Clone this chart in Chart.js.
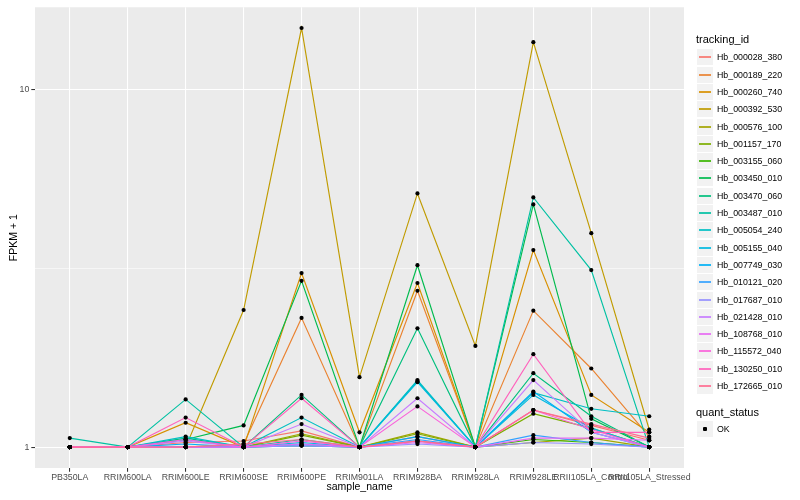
<!DOCTYPE html>
<html><head><meta charset="utf-8">
<script src="https://cdn.jsdelivr.net/npm/chart.js@4.4.1/dist/chart.umd.min.js"></script>
<style>
html,body{margin:0;padding:0;background:#fff;}
#wrap{position:relative;width:800px;height:500px;font-family:"Liberation Sans",Arial,sans-serif;}
canvas{position:absolute;left:0;top:0;}
.lg{position:absolute;white-space:nowrap;}
</style></head><body>
<div id="wrap"><canvas id="c" width="800" height="500"></canvas><div id="legend"></div></div>
<script>
// ---- data ----
const sampleNames = ["PB350LA","RRIM600LA","RRIM600LE","RRIM600SE","RRIM600PE","RRIM901LA","RRIM928BA","RRIM928LA","RRIM928LE","RRII105LA_Control","RRII105LA_Stressed"];
const trackingIds = ["Hb_000028_380","Hb_000189_220","Hb_000260_740","Hb_000392_530","Hb_000576_100","Hb_001157_170","Hb_003155_060","Hb_003450_010","Hb_003470_060","Hb_003487_010","Hb_005054_240","Hb_005155_040","Hb_007749_030","Hb_010121_020","Hb_017687_010","Hb_021428_010","Hb_108768_010","Hb_115572_040","Hb_130250_010","Hb_172665_010"];
const Hb_000028_380 = [1,1,1.03,1.04,1.11,1.0,1.07,1.0,1.27,1.15,1.045];
const Hb_000189_220 = [1,1,1.0,1.02,2.30,1.0,2.74,1.0,2.41,1.66,1.07];
const Hb_000260_740 = [1,1,1.17,1.0,3.07,1.10,2.88,1.0,3.56,1.40,1.10];
const Hb_000392_530 = [1,1,1.0,2.42,14.9,1.57,5.13,1.92,13.6,3.97,1.12];
const Hb_000576_100 = [1,1,1.0,1.0,1.09,1.0,1.10,1.0,1.03,1.06,1.0];
const Hb_001157_170 = [1,1,1.0,1.0,1.08,1.0,1.09,1.0,1.24,1.13,1.0];
const Hb_003155_060 = [1,1,1.0,1.0,1.01,1.0,1.04,1.0,1.05,1.03,1.0];
const Hb_003450_010 = [1,1,1.05,1.15,2.92,1.0,3.23,1.0,4.78,1.20,1.0];
const Hb_003470_060 = [1,1,1.06,1.0,1.40,1.0,2.15,1.0,1.61,1.22,1.0];
const Hb_003487_010 = [1.06,1,1.36,1.0,1.05,1.0,1.53,1.0,5.0,3.13,1.0];
const Hb_005054_240 = [1,1,1.07,1.0,1.21,1.0,1.54,1.0,1.42,1.28,1.22];
const Hb_005155_040 = [1,1,1.05,1.0,1.03,1.0,1.52,1.0,1.40,1.13,1.0];
const Hb_007749_030 = [1,1,1.02,1.0,1.02,1.0,1.07,1.0,1.43,1.10,1.0];
const Hb_010121_020 = [1,1,1.0,1.0,1.01,1.0,1.05,1.0,1.08,1.03,1.0];
const Hb_017687_010 = [1,1,1.0,1.0,1.01,1.0,1.02,1.0,1.03,1.02,1.0];
const Hb_021428_010 = [1,1,1.04,1.0,1.16,1.0,1.37,1.0,1.54,1.10,1.0];
const Hb_108768_010 = [1,1,1.0,1.0,1.02,1.0,1.03,1.0,1.06,1.06,1.045];
const Hb_115572_040 = [1,1,1.05,1.0,1.04,1.0,1.30,1.0,1.27,1.12,1.0];
const Hb_130250_010 = [1,1,1.21,1.0,1.37,1.0,1.04,1.0,1.82,1.10,1.10];
const Hb_172665_010 = [1,1,1.0,1.02,1.05,1.0,1.04,1.0,1.27,1.16,1.06];
const seriesValues = [Hb_000028_380,Hb_000189_220,Hb_000260_740,Hb_000392_530,Hb_000576_100,Hb_001157_170,Hb_003155_060,Hb_003450_010,Hb_003470_060,Hb_003487_010,Hb_005054_240,Hb_005155_040,Hb_007749_030,Hb_010121_020,Hb_017687_010,Hb_021428_010,Hb_108768_010,Hb_115572_040,Hb_130250_010,Hb_172665_010];
const seriesColors = ["#F8766D","#EA8331","#D89000","#C09B00","#A3A500","#7CAE00","#39B600","#00BB4E","#00BF7D","#00C1A3","#00BFC4","#00BAE0","#00B0F6","#35A2FF","#9590FF","#C77CFF","#E76BF3","#FA62DB","#FF62BC","#FF6C91"];
const quantStatus = ["OK"];
const yTickValues = [1, 10];
const yTickLabels = ["1", "10"];
const yMinorBreaks = [Math.sqrt(10)];

// ---- chart ----
const F = '"Liberation Sans", Arial, sans-serif';
const N = seriesValues.length;
const datasets = seriesValues.map((vals, i) => ({
  label: trackingIds[i],
  data: vals.map((v, j) => ({x: j, y: v})),
  borderColor: seriesColors[i],
  backgroundColor: seriesColors[i],
  borderWidth: 1.15,
  pointRadius: 0,
  tension: 0,
  fill: false,
  order: N - i
}));
const allPoints = [];
seriesValues.forEach(vals => vals.forEach((v, j) => allPoints.push({x: j, y: v})));
datasets.push({
  label: quantStatus[0],
  data: allPoints,
  showLine: false,
  pointRadius: 2.1,
  pointStyle: 'circle',
  pointBackgroundColor: '#000',
  pointBorderWidth: 0,
  borderColor: '#000',
  order: -1
});

const bgPlugin = {
  id: 'bg',
  beforeDraw(chart) {
    const {ctx, chartArea: a} = chart;
    ctx.save();
    ctx.fillStyle = '#FFFFFF';
    ctx.fillRect(0, 0, chart.width, chart.height);
    ctx.fillStyle = '#EBEBEB';
    ctx.fillRect(a.left, a.top, a.right - a.left, a.bottom - a.top);
    ctx.restore();
  }
};

const yTicksAll = yTickValues.concat(yMinorBreaks).sort((a, b) => a - b);
const isMinor = v => yMinorBreaks.some(m => Math.abs(m - v) < 1e-6);

new Chart(document.getElementById('c'), {
  type: 'line',
  data: {datasets},
  options: {
    responsive: false,
    animation: false,
    events: [],
    layout: {padding: {left: 0, right: 116, top: 5, bottom: 0}},
    plugins: {legend: {display: false}, tooltip: {enabled: false}},
    scales: {
      x: {
        type: 'linear', min: -0.6, max: 10.6,
        afterBuildTicks: s => { s.ticks = sampleNames.map((_, i) => ({value: i})); },
        afterFit: s => { s.height = 32; },
        ticks: {autoSkip: false, maxRotation: 0, minRotation: 0, callback: v => sampleNames[v],
                font: {size: 8.8, family: F}, color: '#4D4D4D', padding: 1},
        grid: {color: '#FFFFFF', lineWidth: 1.07, tickColor: '#333333', tickLength: 3.7, drawTicks: true},
        border: {display: false},
        title: {display: true, text: 'sample_name', font: {size: 10.5, family: F}, color: '#000000', padding: {top: 0, bottom: 6.5}}
      },
      y: {
        type: 'logarithmic', min: 0.874, max: 17.03,
        afterBuildTicks: s => { s.ticks = yTicksAll.map(v => ({value: v})); },
        afterFit: s => { s.width = 35; },
        ticks: {autoSkip: false, callback: v => { const k = yTickValues.findIndex(t => Math.abs(t - v) < 1e-6); return k >= 0 ? yTickLabels[k] : ''; },
                font: {size: 8.8, family: F}, color: '#4D4D4D', padding: 2},
        grid: {
          color: '#FFFFFF',
          lineWidth: c => (c.tick && isMinor(c.tick.value)) ? 0.55 : 1.07,
          tickColor: c => (c.tick && isMinor(c.tick.value)) ? 'rgba(0,0,0,0)' : '#333333',
          tickLength: 3.7, drawTicks: true
        },
        border: {display: false},
        title: {display: true, text: 'FPKM + 1', font: {size: 10.5, family: F}, color: '#000000', padding: {top: 7.5, bottom: 0}}
      }
    }
  },
  plugins: [bgPlugin]
});

// ---- legend (HTML) ----
const lg = document.getElementById('legend');
function add(html, style) { const d = document.createElement('div'); d.className = 'lg'; d.style.cssText = style; d.innerHTML = html; lg.appendChild(d); return d; }
add('tracking_id', 'left:696px;top:33px;font-size:11px;line-height:13px;color:#000;');
trackingIds.forEach((id, i) => {
  const cy = Math.round(57.3 + i * 17.3);
  add('', `left:697px;top:${cy - 8}px;width:16px;height:16px;background:#F2F2F2;`);
  add('', `left:699px;top:${cy - 1}px;width:12px;height:2px;background:${seriesColors[i]};opacity:0.85;`);
  add(id, `left:717px;top:${cy - 5}px;font-size:8.8px;line-height:10px;color:#000;`);
});
add('quant_status', 'left:696px;top:405.5px;font-size:11px;line-height:13px;color:#000;');
{
  const cy = 429;
  add('', `left:697px;top:${cy - 8}px;width:16px;height:16px;background:#F2F2F2;`);
  add('', `left:703px;top:${cy - 2}px;width:4px;height:4px;background:#000;border-radius:1px;`);
  add(quantStatus[0], `left:717px;top:${cy - 5}px;font-size:8.8px;line-height:10px;color:#000;`);
}
</script>
</body></html>
